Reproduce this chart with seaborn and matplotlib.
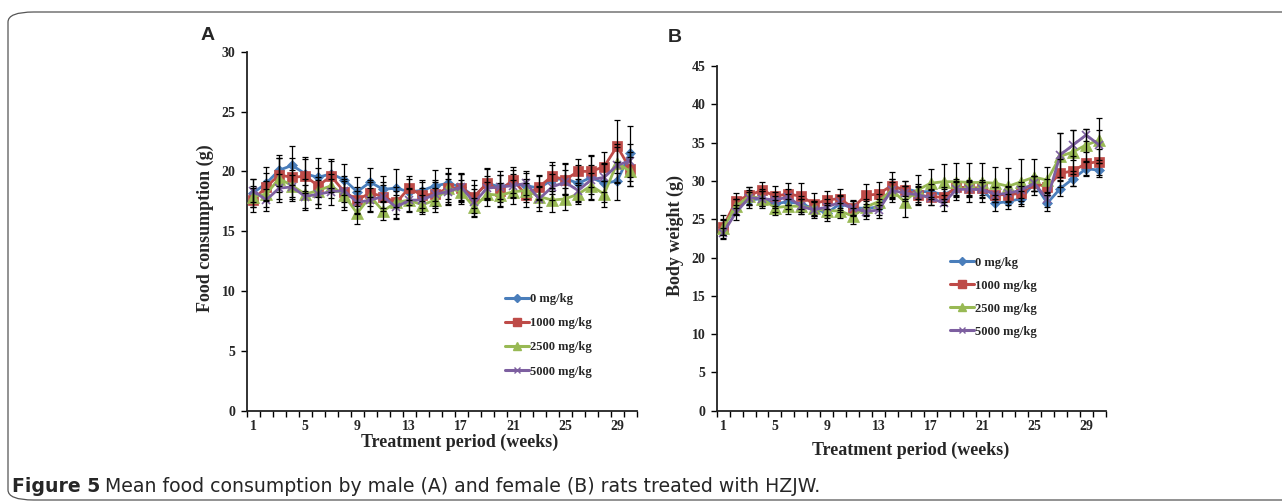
import numpy as np
import pandas as pd
import matplotlib
matplotlib.use("Agg")
import matplotlib.pyplot as plt
import seaborn as sns
from matplotlib.patches import FancyBboxPatch
from matplotlib.lines import Line2D

# weeks of treatment
weeks = list(range(1, 31))
doses = ["0 mg/kg", "1000 mg/kg", "2500 mg/kg", "5000 mg/kg"]

# panel A: food consumption (g), males
food_0 = [18.2, 19.0, 20.1, 20.5, 19.8, 19.5, 19.8, 19.3, 18.3, 19.1, 18.5, 18.6, 18.3, 18.4, 18.8, 19.0,
          18.7, 17.9, 19.0, 18.7, 19.0, 18.8, 18.6, 19.3, 19.4, 19.0, 19.5, 19.0, 19.2, 21.5]
food_1000 = [17.6, 18.7, 19.7, 19.5, 19.6, 18.8, 19.6, 18.3, 17.6, 18.2, 17.9, 17.4, 18.6, 18.0, 18.1, 18.6,
             18.6, 17.9, 19.0, 18.4, 19.3, 18.0, 18.7, 19.6, 19.3, 20.0, 20.0, 20.4, 22.1, 20.2]
food_2500 = [17.9, 18.1, 19.4, 18.8, 18.1, 18.4, 18.8, 18.0, 16.5, 17.9, 16.7, 17.4, 17.6, 17.2, 17.6, 18.6,
             18.3, 17.0, 18.1, 18.0, 18.3, 18.4, 17.9, 17.6, 17.7, 18.1, 18.8, 18.1, 20.7, 20.0]
food_5000 = [18.4, 17.6, 18.6, 18.7, 17.9, 18.1, 18.3, 18.4, 17.4, 17.6, 17.9, 17.0, 17.6, 17.6, 18.1, 18.3,
             18.7, 17.4, 18.6, 18.7, 18.8, 19.0, 17.7, 18.7, 19.1, 18.4, 19.3, 19.5, 20.5, 20.9]
food_0_sd = [1.2, 1.4, 1.3, 1.6, 1.4, 1.6, 1.2, 1.3, 1.2, 1.2, 1.1, 1.6, 1.1, 0.9, 1.3, 1.3,
             1.1, 1.4, 1.3, 1.3, 1.1, 1.1, 1.0, 1.2, 1.3, 1.5, 1.9, 1.6, 1.6, 2.3]
food_1000_sd = [1.0, 1.2, 1.4, 1.6, 1.4, 1.5, 1.3, 1.3, 1.1, 1.1, 1.2, 1.3, 1.0, 1.1, 1.2, 1.2,
                1.2, 1.0, 1.2, 1.3, 1.1, 1.0, 1.0, 1.2, 1.3, 1.0, 1.3, 1.2, 2.2, 1.4]
food_2500_sd = [0.9, 1.1, 1.7, 1.3, 1.3, 1.1, 1.0, 1.2, 0.9, 1.2, 0.8, 1.0, 0.9, 0.8, 1.0, 1.3,
                1.0, 0.8, 1.0, 1.0, 1.0, 1.0, 0.9, 1.0, 0.9, 0.8, 1.1, 1.1, 1.6, 1.2]
food_5000_sd = [1.0, 0.9, 1.2, 1.0, 1.0, 1.2, 1.1, 1.0, 1.0, 1.0, 1.0, 1.0, 1.0, 1.0, 1.0, 1.1,
                1.2, 1.1, 1.0, 1.0, 1.0, 1.0, 1.0, 1.1, 1.0, 1.0, 1.2, 1.2, 1.5, 1.4]

# panel B: body weight (g), females
bw_0 = [24.0, 26.6, 27.5, 27.7, 27.0, 27.3, 27.0, 26.4, 25.8, 27.0, 26.5, 26.4, 26.6, 29.1, 29.0, 28.6,
        28.6, 28.2, 29.0, 29.0, 28.8, 27.1, 27.3, 27.7, 29.7, 27.1, 29.0, 30.3, 31.6, 31.4]
bw_1000 = [24.0, 27.4, 28.1, 28.8, 28.0, 28.3, 28.0, 27.0, 27.5, 27.7, 26.5, 28.1, 28.3, 29.4, 28.8, 28.2,
           27.9, 27.9, 29.2, 29.1, 29.1, 28.2, 28.2, 28.4, 29.7, 29.2, 31.0, 31.3, 32.3, 32.5]
bw_2500 = [23.9, 26.7, 28.0, 27.7, 26.5, 26.7, 26.7, 26.4, 26.1, 26.1, 25.4, 26.6, 27.3, 28.8, 27.3, 28.8,
           29.7, 29.9, 29.9, 29.8, 29.8, 29.7, 29.3, 29.9, 30.5, 30.1, 33.2, 33.8, 34.7, 35.3]
bw_5000 = [23.2, 25.9, 27.8, 27.7, 27.5, 27.9, 26.7, 26.2, 26.6, 27.2, 26.4, 26.0, 26.2, 28.8, 28.4, 28.2,
           27.8, 27.1, 28.9, 28.9, 28.9, 28.2, 28.4, 28.8, 29.7, 27.6, 33.4, 34.7, 36.0, 34.7]
bw_0_sd = [1.0, 1.0, 1.0, 1.0, 1.0, 1.0, 1.0, 1.0, 1.0, 1.0, 1.0, 1.0, 1.0, 1.2, 1.0, 1.0,
           1.0, 1.0, 1.0, 1.0, 1.0, 1.0, 1.0, 1.0, 1.0, 1.0, 1.0, 1.0, 0.9, 0.9]
bw_1000_sd = [1.6, 1.0, 1.1, 1.0, 1.3, 1.4, 1.7, 1.4, 1.2, 1.3, 0.9, 1.5, 1.5, 1.8, 1.2, 1.2,
              1.0, 1.0, 1.0, 1.0, 1.0, 1.0, 1.0, 1.0, 1.0, 1.0, 1.8, 2.0, 1.5, 1.7]
bw_2500_sd = [1.0, 1.0, 1.2, 1.2, 1.0, 1.0, 1.0, 1.0, 1.0, 1.0, 1.0, 1.0, 1.0, 1.5, 2.0, 2.0,
              1.8, 2.3, 2.4, 2.5, 2.5, 2.1, 2.4, 2.9, 2.4, 1.7, 3.1, 2.9, 2.1, 2.9]
bw_5000_sd = [0.7, 1.0, 1.0, 1.0, 1.0, 1.0, 1.0, 1.0, 1.0, 1.0, 1.0, 1.0, 1.0, 1.0, 1.0, 1.0,
              1.0, 1.0, 1.0, 1.0, 1.0, 1.0, 1.0, 1.0, 1.0, 1.0, 2.9, 2.0, 0.8, 2.0]

week_labels = [1, 5, 9, 13, 17, 21, 25, 29]

colors = ["#4a7ebb", "#be4b48", "#98b954", "#7d5fa0"]
markers = ["D", "s", "^", "x"]
msizes = [5, 7, 8, 6]

sns.set_style("ticks")
plt.rcParams["font.family"] = ["Liberation Serif", "DejaVu Serif"]
serif_bold = {"family": "Liberation Serif", "weight": "bold"}

fig = plt.figure(figsize=(12.82, 5.04), dpi=100)

# rounded frame around the figure
frame = FancyBboxPatch((8 / 1282, 4 / 504), 1.2, (504 - 12 - 4) / 504,
                       boxstyle="round,pad=0,rounding_size=0.02",
                       transform=fig.transFigure, fill=False,
                       edgecolor="#555555", linewidth=0.9, clip_on=False)
fig.patches.append(frame)


def draw_panel(ax, means, sds, ymax, ylabel, xlab_pos, ylab_pos, leg_anchor, leg_space):
    for i, (m, s) in enumerate(zip(means, sds)):
        df = pd.DataFrame({"week": weeks, "value": m})
        ax.errorbar(weeks, m, yerr=s, fmt="none", ecolor="black",
                    elinewidth=0.9, capsize=2, capthick=0.9, zorder=4)
        sns.lineplot(data=df, x="week", y="value", ax=ax, color=colors[i],
                     marker=markers[i], markersize=msizes[i], linewidth=2.0,
                     markeredgecolor=colors[i], markeredgewidth=1.2 if markers[i] == "x" else 0.5,
                     zorder=3, legend=False)
    ax.set_xlim(0.5, 30.5)
    ax.set_ylim(0, ymax)
    ax.set_yticks(np.arange(0, ymax + 1, 5))
    ax.set_xticks(np.arange(0.5, 31, 1))
    ax.set_xticklabels([])
    ax.set_xticks(week_labels, minor=True)
    ax.set_xticklabels([str(w) for w in week_labels], minor=True)
    ax.tick_params(axis="x", which="major", length=4, width=1, direction="out", color="black")
    ax.tick_params(axis="x", which="minor", length=0, pad=7, labelsize=10)
    ax.tick_params(axis="y", length=4, width=1, labelsize=10, pad=4, color="black")
    for lab in ax.get_xticklabels(minor=True) + ax.get_yticklabels():
        lab.set_fontweight("bold")
    sns.despine(ax=ax)
    for sp in ["left", "bottom"]:
        ax.spines[sp].set_linewidth(1.3)
        ax.spines[sp].set_color("#222222")
    ax.set_xlabel("Treatment period (weeks)", fontdict=serif_bold, fontsize=13)
    ax.xaxis.set_label_coords(*xlab_pos)
    ax.xaxis.label.set_va("center")
    ax.set_ylabel(ylabel, fontdict=serif_bold, fontsize=13)
    ax.yaxis.set_label_coords(*ylab_pos)
    ax.yaxis.label.set_va("center")
    handles = [Line2D([], [], color=c, marker=mk, markersize=ms * 0.8, linewidth=2.2,
                      markeredgecolor=c) for c, mk, ms in zip(colors, markers, msizes)]
    ax.legend(handles, doses, loc="upper left", bbox_to_anchor=leg_anchor, frameon=False,
              prop={"family": "Liberation Serif", "weight": "bold", "size": 9},
              handlelength=1.9, handletextpad=0.1, labelspacing=leg_space, borderpad=0,
              borderaxespad=0)


axA = fig.add_axes([0.1924, 0.1851, 0.3042, 0.7123])
draw_panel(axA, [food_0, food_1000, food_2500, food_5000],
           [food_0_sd, food_1000_sd, food_2500_sd, food_5000_sd],
           30, "Food consumption (g)", (0.547, -0.087), (-0.107, 0.5075), (0.662, 0.328), 0.98)

axB = fig.add_axes([0.5590, 0.1851, 0.3034, 0.6839])
draw_panel(axB, [bw_0, bw_1000, bw_2500, bw_5000],
           [bw_0_sd, bw_1000_sd, bw_2500_sd, bw_5000_sd],
           45, "Body weight (g)", (0.4995, -0.114), (-0.107, 0.507), (0.600, 0.447), 0.88)

fig.text(208 / 1282, 1 - 36 / 504, "A", family="Liberation Sans", weight="bold",
         fontsize=14, ha="center", va="center")
fig.text(675 / 1282, 1 - 37 / 504, "B", family="Liberation Sans", weight="bold",
         fontsize=14, ha="center", va="center")

# caption: bold figure number then regular text
cap_y = 1 - 487 / 504
t1 = fig.text(12 / 1282, cap_y, "Figure 5", family="DejaVu Sans", weight="bold",
              fontsize=13.6, ha="left", va="center")
fig.canvas.draw()
bb = t1.get_window_extent()
fig.text((bb.x1 + 5) / 1282, cap_y,
         "Mean food consumption by male (A) and female (B) rats treated with HZJW.",
         family="DejaVu Sans", fontsize=13.6, ha="left", va="center")

fig.savefig("out.png", dpi=100)
